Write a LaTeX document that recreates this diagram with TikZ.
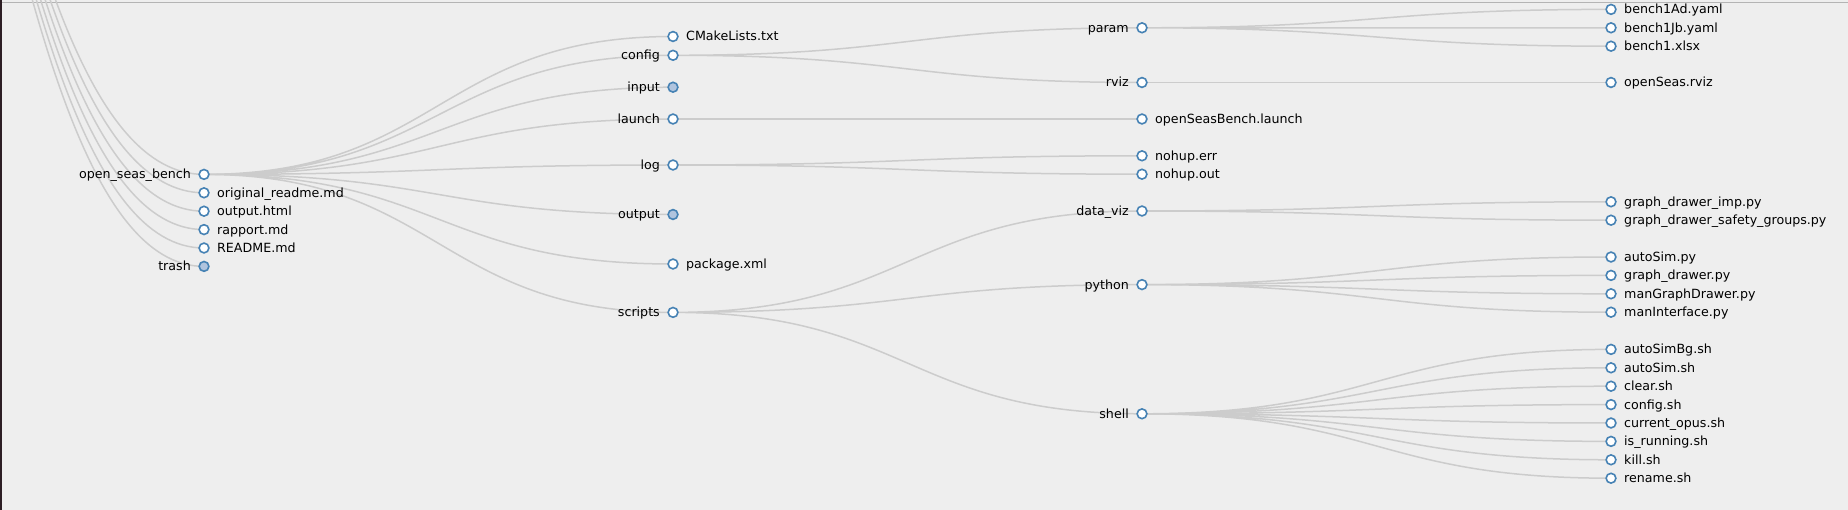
\documentclass[tikz,border=0pt]{standalone}
\usepackage{fontspec}
\setmainfont{DejaVu Sans}
\usepackage{tikz}
\usetikzlibrary{positioning, calc}
\definecolor{paper}{RGB}{238,238,238}
\definecolor{nodeedge}{RGB}{70,130,180}
\definecolor{nodeshut}{RGB}{176,196,222}
\definecolor{linkcol}{RGB}{204,204,204}
\definecolor{topline}{RGB}{180,180,180}
\definecolor{leftedge}{RGB}{45,30,36}
\pgfdeclarelayer{paperlayer}
\pgfdeclarelayer{edges}
\pgfsetlayers{paperlayer,edges,main}

\tikzset{
    leaf/.style={circle, draw=nodeedge, fill=white, line width=1.6pt, minimum size=9.8pt, inner sep=0pt},
    shut/.style={leaf, fill=nodeshut},
    lbl/.style={font=\fontsize{12.65}{15}\selectfont, text=black, inner sep=0pt},
    tagl/.style={label={[lbl, anchor=base east, xshift=-7.3pt, yshift=-4.43pt]left:#1}},
    tagr/.style={label={[lbl, anchor=base west, xshift=7.3pt, yshift=-4.43pt]right:#1}},
    link/.style={draw=linkcol, line width=1.5pt},
    diag/.style={to path={.. controls +(234.5,0) and +(-234.5,0) .. (\tikztotarget)}}
}

\begin{document}
\begin{tikzpicture}[x=1pt, y=-1pt]
    \useasboundingbox (0,0) rectangle (1848,510);

    % === FOND ===
    \begin{pgfonlayer}{paperlayer}
        \fill[paper] (0,0) rectangle (1848,510);
        \draw[topline, line width=1pt] (0,3) -- (1848,3);
        \fill[leftedge] (0,0) rectangle (1.5,510);
    \end{pgfonlayer}

    % === NIVEAU 1 ===
    \coordinate (root) at (-265,-790);
    \node[leaf, tagl={open\_seas\_bench}] (osb) at (204,174.4) {};
    \node[leaf, tagr={original\_readme.md}] (readmeorig) at (204,192.8) {};
    \node[leaf, tagr={output.html}] (outhtml) at (204,211.2) {};
    \node[leaf, tagr={rapport.md}] (rapport) at (204,229.6) {};
    \node[leaf, tagr={README.md}] (readme) at (204,248) {};
    \node[shut, tagl={trash}] (trash) at (204,266.4) {};

    % === NIVEAU 2 ===
    \node[leaf, tagr={CMakeLists.txt}] (cmake) at (673,36.5) {};
    \node[leaf, tagl={config}] (config) at (673,55.3) {};
    \node[shut, tagl={input}] (input) at (673,87.2) {};
    \node[leaf, tagl={launch}] (launch) at (673,119) {};
    \node[leaf, tagl={log}] (log) at (673,165) {};
    \node[shut, tagl={output}] (output) at (673,214.5) {};
    \node[leaf, tagr={package.xml}] (pkg) at (673,264) {};
    \node[leaf, tagl={scripts}] (scripts) at (673,312.4) {};

    % === NIVEAU 3 ===
    \node[leaf, tagl={param}] (param) at (1142,27.8) {};
    \node[leaf, tagl={rviz}] (rviz) at (1142,82.5) {};
    \node[leaf, tagr={openSeasBench.launch}] (launchf) at (1142,119) {};
    \node[leaf, tagr={nohup.err}] (errf) at (1142,155.8) {};
    \node[leaf, tagr={nohup.out}] (outf) at (1142,174.2) {};
    \node[leaf, tagl={data\_viz}] (dataviz) at (1142,211) {};
    \node[leaf, tagl={python}] (python) at (1142,284.6) {};
    \node[leaf, tagl={shell}] (shell) at (1142,413.8) {};

    % === NIVEAU 4 ===
    \node[leaf, tagr={bench1Ad.yaml}] (yamla) at (1611,9.4) {};
    \node[leaf, tagr={bench1Jb.yaml}] (yamlb) at (1611,27.8) {};
    \node[leaf, tagr={bench1.xlsx}] (xlsx) at (1611,46.2) {};
    \node[leaf, tagr={openSeas.rviz}] (rvizf) at (1611,82.5) {};
    \node[leaf, tagr={graph\_drawer\_imp.py}] (gdimp) at (1611,201.8) {};
    \node[leaf, tagr={graph\_drawer\_safety\_groups.py}] (gdsafe) at (1611,220.2) {};
    \node[leaf, tagr={autoSim.py}] (simpy) at (1611,257) {};
    \node[leaf, tagr={graph\_drawer.py}] (gdpy) at (1611,275.4) {};
    \node[leaf, tagr={manGraphDrawer.py}] (mangd) at (1611,293.8) {};
    \node[leaf, tagr={manInterface.py}] (manif) at (1611,312.2) {};
    \node[leaf, tagr={autoSimBg.sh}] (simbg) at (1611,349.4) {};
    \node[leaf, tagr={autoSim.sh}] (simsh) at (1611,367.8) {};
    \node[leaf, tagr={clear.sh}] (clear) at (1611,386.2) {};
    \node[leaf, tagr={config.sh}] (cfgsh) at (1611,404.6) {};
    \node[leaf, tagr={current\_opus.sh}] (opus) at (1611,423) {};
    \node[leaf, tagr={is\_running.sh}] (running) at (1611,441.4) {};
    \node[leaf, tagr={kill.sh}] (kill) at (1611,459.8) {};
    \node[leaf, tagr={rename.sh}] (rename) at (1611,478.2) {};

    % === LIENS ===
    \begin{pgfonlayer}{edges}
        \clip (0,0) rectangle (1848,510);
        % racine
        \draw[link] (root) to[diag] (osb.center) (root) to[diag] (readmeorig.center) (root) to[diag] (outhtml.center);
        \draw[link] (root) to[diag] (rapport.center) (root) to[diag] (readme.center) (root) to[diag] (trash.center);
        % open_seas_bench
        \draw[link] (osb.center) to[diag] (cmake.center) (osb.center) to[diag] (config.center) (osb.center) to[diag] (input.center);
        \draw[link] (osb.center) to[diag] (launch.center) (osb.center) to[diag] (log.center) (osb.center) to[diag] (output.center);
        \draw[link] (osb.center) to[diag] (pkg.center) (osb.center) to[diag] (scripts.center);
        % config, launch, log, scripts
        \draw[link] (config.center) to[diag] (param.center) (config.center) to[diag] (rviz.center);
        \draw[link] (launch.center) to[diag] (launchf.center);
        \draw[link] (log.center) to[diag] (errf.center) (log.center) to[diag] (outf.center);
        \draw[link] (scripts.center) to[diag] (dataviz.center) (scripts.center) to[diag] (python.center) (scripts.center) to[diag] (shell.center);
        % param, rviz, data_viz
        \draw[link] (param.center) to[diag] (yamla.center) (param.center) to[diag] (yamlb.center) (param.center) to[diag] (xlsx.center);
        \draw[link] (rviz.center) to[diag] (rvizf.center);
        \draw[link] (dataviz.center) to[diag] (gdimp.center) (dataviz.center) to[diag] (gdsafe.center);
        % python
        \draw[link] (python.center) to[diag] (simpy.center) (python.center) to[diag] (gdpy.center);
        \draw[link] (python.center) to[diag] (mangd.center) (python.center) to[diag] (manif.center);
        % shell
        \draw[link] (shell.center) to[diag] (simbg.center) (shell.center) to[diag] (simsh.center) (shell.center) to[diag] (clear.center);
        \draw[link] (shell.center) to[diag] (cfgsh.center) (shell.center) to[diag] (opus.center) (shell.center) to[diag] (running.center);
        \draw[link] (shell.center) to[diag] (kill.center) (shell.center) to[diag] (rename.center);
    \end{pgfonlayer}

\end{tikzpicture}
\end{document}
